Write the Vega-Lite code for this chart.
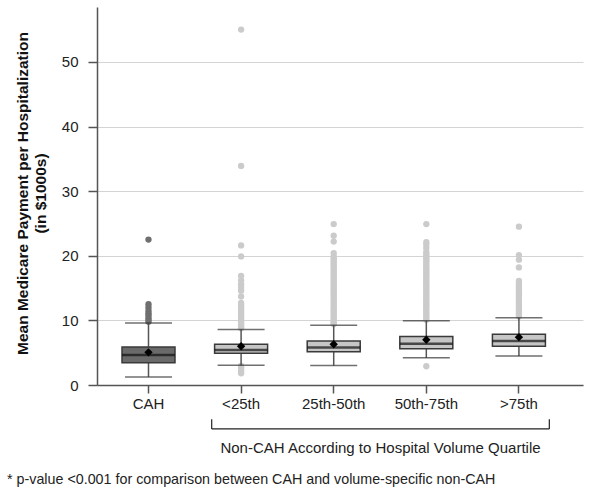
{
  "$schema": "https://vega.github.io/schema/vega-lite/v6.json",
  "width": 486,
  "height": 378,
  "autosize": {"type": "none"},
  "padding": {"left": 97, "top": 7, "right": 18, "bottom": 110},
  "background": "white",
  "config": {
    "font": "Liberation Sans",
    "view": {"stroke": null},
    "axis": {"labelColor": "#222", "titleColor": "#111", "labelFontSize": 15, "domainColor": "#555", "domainWidth": 1.5, "tickColor": "#555", "tickWidth": 1.5}
  },
  "title": {
    "text": "* p-value <0.001 for comparison between CAH and volume-specific non-CAH",
    "orient": "bottom",
    "anchor": "start",
    "frame": "group",
    "dx": -90,
    "offset": 18,
    "fontSize": 14.3,
    "fontWeight": "normal",
    "color": "#222"
  },
  "datasets": {
    "stats": [
      {"g": "CAH", "lo": 1.25, "q1": 3.45, "med": 4.65, "q3": 5.9, "hi": 9.6, "mean": 5.05},
      {"g": "<25th", "lo": 3.05, "q1": 4.9, "med": 5.4, "q3": 6.3, "hi": 8.6, "mean": 6.0},
      {"g": "25th-50th", "lo": 3.0, "q1": 5.15, "med": 5.8, "q3": 6.8, "hi": 9.25, "mean": 6.3},
      {"g": "50th-75th", "lo": 4.2, "q1": 5.6, "med": 6.4, "q3": 7.5, "hi": 9.95, "mean": 7.0},
      {"g": ">75th", "lo": 4.5, "q1": 6.0, "med": 6.8, "q3": 7.85, "hi": 10.4, "mean": 7.4}
    ],
    "outliers": [
      {"g": "CAH", "v": 9.8}, {"g": "CAH", "v": 10.1}, {"g": "CAH", "v": 10.4}, {"g": "CAH", "v": 10.8}, {"g": "CAH", "v": 11.1}, {"g": "CAH", "v": 11.5}, {"g": "CAH", "v": 12.0}, {"g": "CAH", "v": 12.5}, {"g": "CAH", "v": 22.5},
      {"g": "<25th", "v": 1.8}, {"g": "<25th", "v": 2.1}, {"g": "<25th", "v": 2.4}, {"g": "<25th", "v": 2.7}, {"g": "<25th", "v": 2.95},
      {"g": "<25th", "v": 8.8}, {"g": "<25th", "v": 9.1}, {"g": "<25th", "v": 9.4}, {"g": "<25th", "v": 9.7}, {"g": "<25th", "v": 10.0}, {"g": "<25th", "v": 10.3}, {"g": "<25th", "v": 10.6}, {"g": "<25th", "v": 10.9}, {"g": "<25th", "v": 11.2}, {"g": "<25th", "v": 11.5}, {"g": "<25th", "v": 11.8}, {"g": "<25th", "v": 12.1}, {"g": "<25th", "v": 12.4}, {"g": "<25th", "v": 12.7},
      {"g": "<25th", "v": 13.7}, {"g": "<25th", "v": 14.6}, {"g": "<25th", "v": 15.1}, {"g": "<25th", "v": 15.6}, {"g": "<25th", "v": 16.2}, {"g": "<25th", "v": 16.9}, {"g": "<25th", "v": 19.9}, {"g": "<25th", "v": 21.6}, {"g": "<25th", "v": 33.9}, {"g": "<25th", "v": 55.0},
      {"g": "25th-50th", "v": 9.4}, {"g": "25th-50th", "v": 9.7}, {"g": "25th-50th", "v": 10.0}, {"g": "25th-50th", "v": 10.3}, {"g": "25th-50th", "v": 10.6}, {"g": "25th-50th", "v": 10.9}, {"g": "25th-50th", "v": 11.2}, {"g": "25th-50th", "v": 11.5}, {"g": "25th-50th", "v": 11.8}, {"g": "25th-50th", "v": 12.1}, {"g": "25th-50th", "v": 12.4}, {"g": "25th-50th", "v": 12.7}, {"g": "25th-50th", "v": 13.0}, {"g": "25th-50th", "v": 13.3}, {"g": "25th-50th", "v": 13.6}, {"g": "25th-50th", "v": 13.9}, {"g": "25th-50th", "v": 14.2}, {"g": "25th-50th", "v": 14.5}, {"g": "25th-50th", "v": 14.8}, {"g": "25th-50th", "v": 15.1}, {"g": "25th-50th", "v": 15.4}, {"g": "25th-50th", "v": 15.7}, {"g": "25th-50th", "v": 16.0}, {"g": "25th-50th", "v": 16.3}, {"g": "25th-50th", "v": 16.6}, {"g": "25th-50th", "v": 16.9}, {"g": "25th-50th", "v": 17.2}, {"g": "25th-50th", "v": 17.5}, {"g": "25th-50th", "v": 17.8}, {"g": "25th-50th", "v": 18.1}, {"g": "25th-50th", "v": 18.4}, {"g": "25th-50th", "v": 18.7}, {"g": "25th-50th", "v": 19.0}, {"g": "25th-50th", "v": 19.3}, {"g": "25th-50th", "v": 19.6}, {"g": "25th-50th", "v": 19.9}, {"g": "25th-50th", "v": 20.4}, {"g": "25th-50th", "v": 22.2}, {"g": "25th-50th", "v": 23.1}, {"g": "25th-50th", "v": 24.9},
      {"g": "50th-75th", "v": 2.9}, {"g": "50th-75th", "v": 10.1}, {"g": "50th-75th", "v": 10.4}, {"g": "50th-75th", "v": 10.7}, {"g": "50th-75th", "v": 11.0}, {"g": "50th-75th", "v": 11.3}, {"g": "50th-75th", "v": 11.6}, {"g": "50th-75th", "v": 11.9}, {"g": "50th-75th", "v": 12.2}, {"g": "50th-75th", "v": 12.5}, {"g": "50th-75th", "v": 12.8}, {"g": "50th-75th", "v": 13.1}, {"g": "50th-75th", "v": 13.4}, {"g": "50th-75th", "v": 13.7}, {"g": "50th-75th", "v": 14.0}, {"g": "50th-75th", "v": 14.3}, {"g": "50th-75th", "v": 14.6}, {"g": "50th-75th", "v": 14.9}, {"g": "50th-75th", "v": 15.2}, {"g": "50th-75th", "v": 15.5}, {"g": "50th-75th", "v": 15.8}, {"g": "50th-75th", "v": 16.1}, {"g": "50th-75th", "v": 16.4}, {"g": "50th-75th", "v": 16.7}, {"g": "50th-75th", "v": 17.0}, {"g": "50th-75th", "v": 17.3}, {"g": "50th-75th", "v": 17.6}, {"g": "50th-75th", "v": 17.9}, {"g": "50th-75th", "v": 18.2}, {"g": "50th-75th", "v": 18.5}, {"g": "50th-75th", "v": 18.8}, {"g": "50th-75th", "v": 19.1}, {"g": "50th-75th", "v": 19.4}, {"g": "50th-75th", "v": 19.7}, {"g": "50th-75th", "v": 20.0}, {"g": "50th-75th", "v": 20.3}, {"g": "50th-75th", "v": 20.6}, {"g": "50th-75th", "v": 21.2}, {"g": "50th-75th", "v": 21.7}, {"g": "50th-75th", "v": 22.1}, {"g": "50th-75th", "v": 24.9},
      {"g": ">75th", "v": 10.6}, {"g": ">75th", "v": 10.9}, {"g": ">75th", "v": 11.2}, {"g": ">75th", "v": 11.5}, {"g": ">75th", "v": 11.8}, {"g": ">75th", "v": 12.1}, {"g": ">75th", "v": 12.4}, {"g": ">75th", "v": 12.7}, {"g": ">75th", "v": 13.0}, {"g": ">75th", "v": 13.3}, {"g": ">75th", "v": 13.6}, {"g": ">75th", "v": 13.9}, {"g": ">75th", "v": 14.2}, {"g": ">75th", "v": 14.5}, {"g": ">75th", "v": 14.8}, {"g": ">75th", "v": 15.1}, {"g": ">75th", "v": 15.4}, {"g": ">75th", "v": 15.7}, {"g": ">75th", "v": 16.1}, {"g": ">75th", "v": 18.2}, {"g": ">75th", "v": 19.4}, {"g": ">75th", "v": 20.1}, {"g": ">75th", "v": 24.5}
    ]
  },
  "layer": [
    {
      "data": {"name": "outliers"},
      "mark": {"type": "point", "filled": true, "size": 40, "opacity": 1},
      "encoding": {
        "x": {
          "field": "g", "type": "nominal",
          "scale": {"type": "band", "domain": ["CAH", "<25th", "25th-50th", "50th-75th", ">75th"], "paddingInner": 0, "paddingOuter": 0.124, "align": 0.226},
          "axis": {"title": "Non-CAH According to Hospital Volume Quartile", "labelAngle": 0, "tickSize": 8, "labelPadding": 3, "titleFontSize": 15, "titleFontWeight": "normal", "titleX": 283, "titleY": 67, "titleBaseline": "alphabetic", "titleAlign": "center", "titleColor": "#222"}
        },
        "y": {
          "field": "v", "type": "quantitative",
          "scale": {"domain": [0, 58.5], "nice": false, "zero": false},
          "axis": {"title": ["Mean Medicare Payment per Hospitalization", "(in $1000s)"], "values": [0, 10, 20, 30, 40, 50], "grid": true, "gridColor": "#d4d4d4", "gridWidth": 1, "tickSize": 9, "labelPadding": 10, "titleFontSize": 15.5, "titleFontWeight": "bold", "titleLineHeight": 18, "titleX": -70, "titleY": 186, "titleBaseline": "alphabetic", "titleAlign": "center", "titleAngle": -90}
        },
        "color": {"field": "g", "type": "nominal", "scale": {"domain": ["CAH", "<25th", "25th-50th", "50th-75th", ">75th"], "range": ["#6f6f6f", "#cbcbcb", "#cbcbcb", "#cbcbcb", "#cbcbcb"]}, "legend": null}
      }
    },
    {
      "data": {"name": "stats"},
      "mark": {"type": "rule", "color": "#555", "strokeWidth": 1.5},
      "encoding": {
        "x": {"field": "g", "type": "nominal"},
        "y": {"field": "lo", "type": "quantitative"},
        "y2": {"field": "hi"}
      }
    },
    {
      "data": {"name": "stats"},
      "mark": {"type": "tick", "color": "#333", "size": 47, "thickness": 1.5},
      "encoding": {
        "x": {"field": "g", "type": "nominal"},
        "y": {"field": "lo", "type": "quantitative"}
      }
    },
    {
      "data": {"name": "stats"},
      "mark": {"type": "tick", "color": "#333", "size": 47, "thickness": 1.5},
      "encoding": {
        "x": {"field": "g", "type": "nominal"},
        "y": {"field": "hi", "type": "quantitative"}
      }
    },
    {
      "data": {"name": "stats"},
      "mark": {"type": "bar", "size": 53, "stroke": "#3a3a3a", "strokeWidth": 1.5},
      "encoding": {
        "x": {"field": "g", "type": "nominal"},
        "y": {"field": "q1", "type": "quantitative"},
        "y2": {"field": "q3"},
        "fill": {"field": "g", "type": "nominal", "scale": {"domain": ["CAH", "<25th", "25th-50th", "50th-75th", ">75th"], "range": ["#6a6a6a", "#c6c6c6", "#c6c6c6", "#c6c6c6", "#c6c6c6"]}, "legend": null}
      }
    },
    {
      "data": {"name": "stats"},
      "mark": {"type": "tick", "color": "#111", "size": 53, "thickness": 2.5},
      "encoding": {
        "x": {"field": "g", "type": "nominal"},
        "y": {"field": "med", "type": "quantitative"}
      }
    },
    {
      "data": {"name": "stats"},
      "mark": {"type": "point", "shape": "diamond", "filled": true, "color": "#000", "size": 70, "opacity": 1},
      "encoding": {
        "x": {"field": "g", "type": "nominal"},
        "y": {"field": "mean", "type": "quantitative"}
      }
    },
    {
      "data": {"values": [{}]},
      "mark": {"type": "rule", "color": "#222", "strokeWidth": 1.2, "xOffset": -29.4, "x2Offset": 30.4},
      "encoding": {
        "x": {"datum": "<25th"},
        "x2": {"datum": ">75th"},
        "y": {"datum": -6.8}
      }
    },
    {
      "data": {"values": [{}]},
      "mark": {"type": "rule", "color": "#222", "strokeWidth": 1.2, "xOffset": -29.4},
      "encoding": {
        "x": {"datum": "<25th"},
        "y": {"datum": -5.3},
        "y2": {"datum": -6.8}
      }
    },
    {
      "data": {"values": [{}]},
      "mark": {"type": "rule", "color": "#222", "strokeWidth": 1.2, "xOffset": 30.4},
      "encoding": {
        "x": {"datum": ">75th"},
        "y": {"datum": -5.3},
        "y2": {"datum": -6.8}
      }
    }
  ]
}
